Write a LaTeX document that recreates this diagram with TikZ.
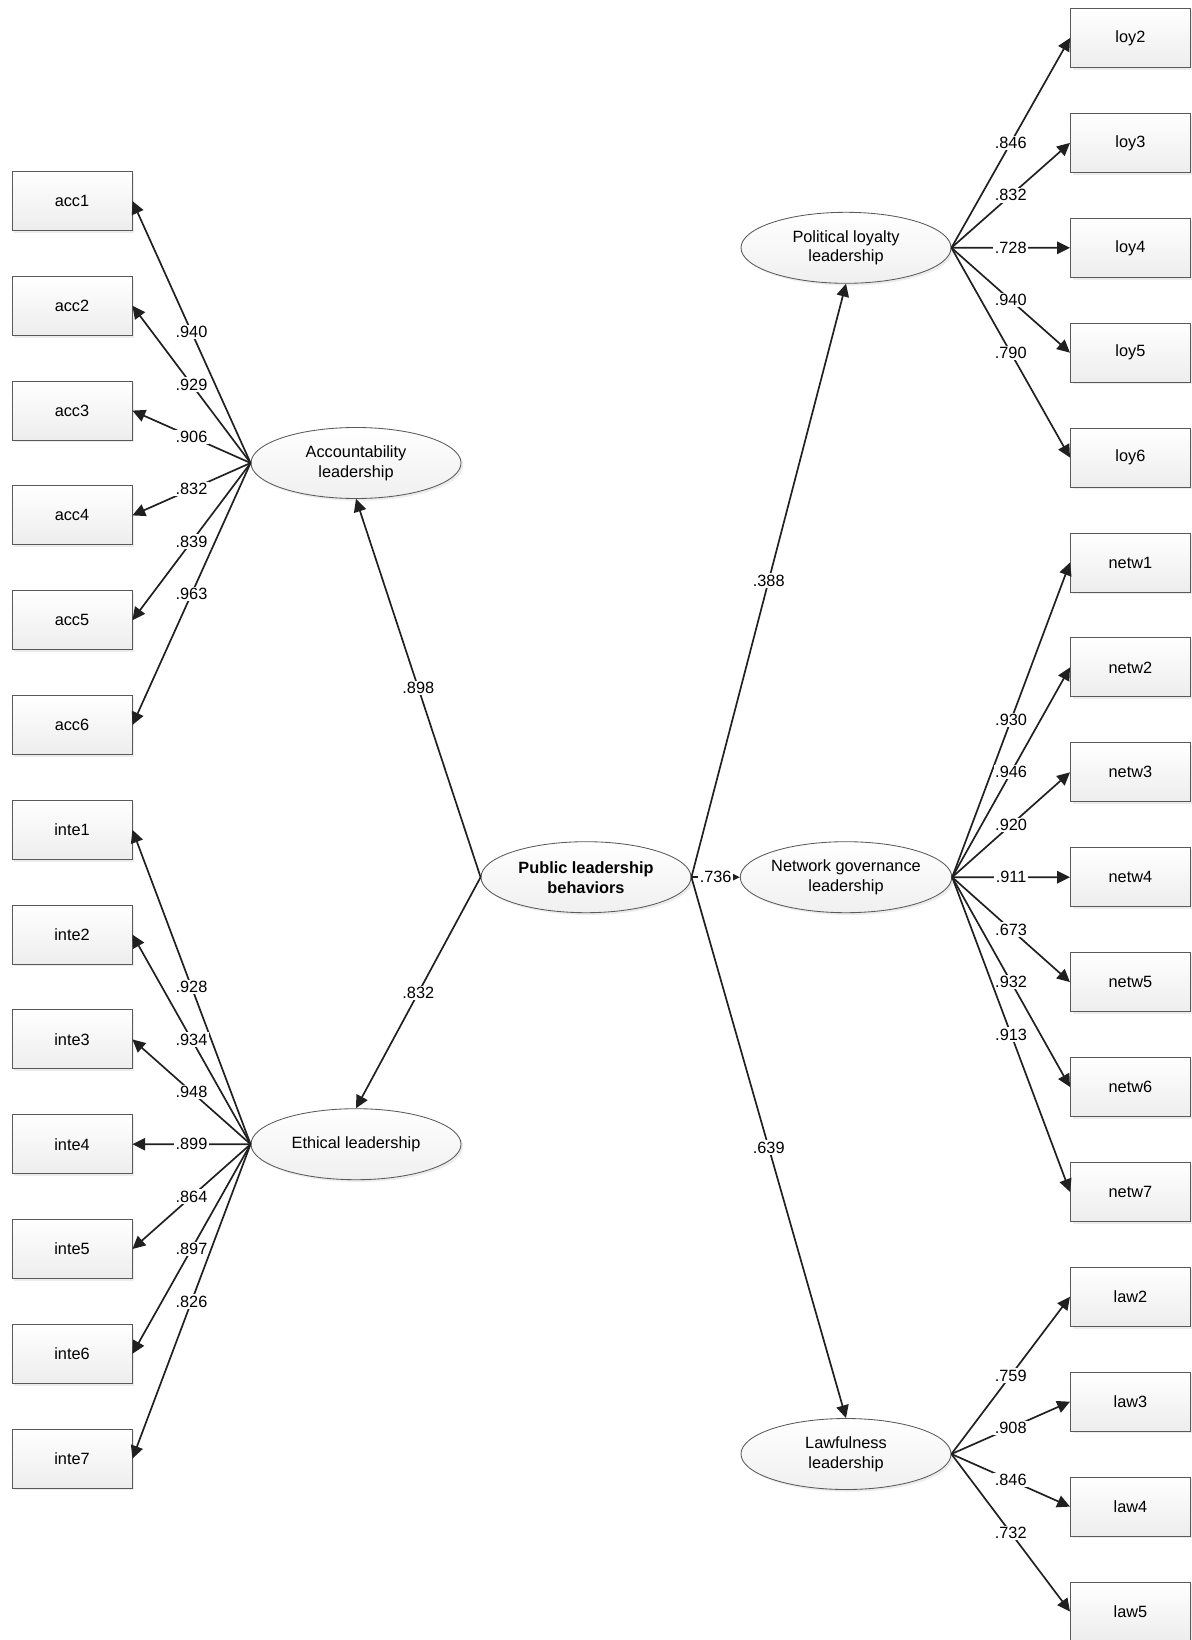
\documentclass[tikz,border=0pt]{standalone}
\usepackage{fontspec}
\setmainfont{Liberation Sans}
\usetikzlibrary{arrows.meta,shapes.geometric,shadows}

\tikzset{
  obsbox/.style={draw=gray!70!black,line width=0.6pt,top color=white,bottom color=gray!14,
    minimum width=3cm,minimum height=1.475cm,inner sep=0pt,
    drop shadow={shadow xshift=1.6pt,shadow yshift=-1.6pt,fill=gray!30}},
  latent/.style={ellipse,draw=gray!70!black,line width=0.6pt,top color=white,bottom color=gray!12,
    minimum width=5.25cm,minimum height=1.775cm,inner sep=0pt,align=center,
    drop shadow={shadow xshift=1.6pt,shadow yshift=-1.6pt,fill=gray!30}},
  load/.style={->,draw=gray!25!black,line width=1.2pt},
  lbl/.style={fill=white,inner sep=1pt,midway}
}

\begin{document}
\begin{tikzpicture}[>={Triangle[length=0.32cm,width=0.31cm]},font=\fontsize{11.6}{14.2}\selectfont]
\useasboundingbox (0,0) rectangle (29.775,-41);
% indicators
\foreach \n [count=\k from 0] in {acc1,acc2,acc3,acc4,acc5,acc6,inte1,inte2,inte3,inte4,inte5,inte6,inte7}
  \node[obsbox] (\n) at (1.8,-5.025-\k*2.62) {\n};
\foreach \n [count=\k from 0] in {loy2,loy3,loy4,loy5,loy6,netw1,netw2,netw3,netw4,netw5,netw6,netw7,law2,law3,law4,law5}
  \node[obsbox] (\n) at (28.26,-0.95-\k*2.6225) {\n};
% factors
\node[latent] (ACC) at (8.9,-11.575) {Accountability\\leadership};
\node[latent] (ETH) at (8.9,-28.605) {Ethical leadership};
\node[latent] (PLB) at (14.65,-21.93) {\textbf{Public leadership}\\\textbf{behaviors}};
\node[latent] (LOY) at (21.15,-6.195) {Political loyalty\\leadership};
\node[latent] (NET) at (21.15,-21.93) {Network governance\\leadership};
\node[latent] (LAW) at (21.15,-36.35) {Lawfulness\\leadership};
% second order paths
\draw[load] (PLB.west) -- node[lbl] {.898} (ACC.south);
\draw[load] (PLB.west) -- node[lbl] {.832} (ETH.north);
\draw[load] (PLB.east) -- node[lbl] {.388} (LOY.south);
\draw[load] (PLB.east) -- node[lbl] {.736} (NET.west);
\draw[load] (PLB.east) -- node[lbl] {.639} (LAW.north);
% loadings
\foreach \n/\v in {acc1/.940,acc2/.929,acc3/.906,acc4/.832,acc5/.839,acc6/.963}
  \draw[load] (ACC.west) -- node[lbl] {\v} (\n.east);
\foreach \n/\v in {inte1/.928,inte2/.934,inte3/.948,inte4/.899,inte5/.864,inte6/.897,inte7/.826}
  \draw[load] (ETH.west) -- node[lbl] {\v} (\n.east);
\foreach \n/\v in {loy2/.846,loy3/.832,loy4/.728,loy5/.940,loy6/.790}
  \draw[load] (LOY.east) -- node[lbl] {\v} (\n.west);
\foreach \n/\v in {netw1/.930,netw2/.946,netw3/.920,netw4/.911,netw5/.673,netw6/.932,netw7/.913}
  \draw[load] (NET.east) -- node[lbl] {\v} (\n.west);
\foreach \n/\v in {law2/.759,law3/.908,law4/.846,law5/.732}
  \draw[load] (LAW.east) -- node[lbl] {\v} (\n.west);
\end{tikzpicture}
\end{document}
